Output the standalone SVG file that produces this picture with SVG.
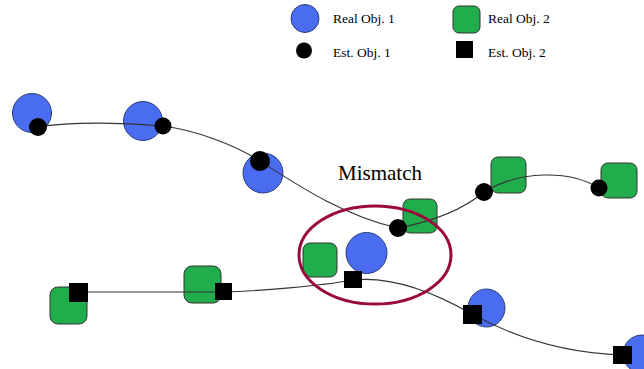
<svg xmlns="http://www.w3.org/2000/svg" width="644" height="369" viewBox="0 0 644 369">
<style>
.real1{fill:#4A6CF0;stroke:#2C3F7A;stroke-width:1}
.real2{fill:#22AD4C;stroke:#333;stroke-width:1}
.est{fill:#000}
.conn{fill:none;stroke:#333;stroke-width:1.1}
.lbl{font-family:"Liberation Serif","Times New Roman",serif;font-size:13.5px;fill:#000}
.title{font-family:"Liberation Serif","Times New Roman",serif;font-size:21px;fill:#000}
</style>
<rect width="644" height="369" fill="#fff"/>
<g id="legend">
<circle class="real1" cx="305" cy="18.5" r="14"/>
<text class="lbl" x="333" y="22.5">Real Obj. 1</text>
<rect class="real2" x="453" y="6" width="27" height="27" rx="6"/>
<text class="lbl" x="488" y="22.5">Real Obj. 2</text>
<circle class="est" cx="304" cy="50.5" r="8"/>
<text class="lbl" x="333" y="57">Est. Obj. 1</text>
<rect class="est" x="456" y="41" width="17" height="17"/>
<text class="lbl" x="488" y="57">Est. Obj. 2</text>
</g>
<g id="real-obj1-a"><circle class="real1" cx="32" cy="113" r="19.5"/></g>
<g id="real-obj1-b"><circle class="real1" cx="143" cy="121" r="19.5"/></g>
<g id="real-obj1-c"><circle class="real1" cx="263" cy="173" r="20"/></g>
<g id="real-obj2-a"><rect class="real2" x="403" y="199" width="34" height="34" rx="7"/></g>
<g id="real-obj2-b"><rect class="real2" x="491" y="157" width="35" height="36" rx="7"/></g>
<g id="real-obj2-c"><rect class="real2" x="601" y="163" width="36" height="35" rx="7"/></g>
<g id="real-obj2-d"><rect class="real2" x="50" y="287" width="37" height="37" rx="8"/></g>
<g id="real-obj2-e"><rect class="real2" x="184" y="266" width="37" height="37" rx="8"/></g>
<g id="real-obj2-f"><rect class="real2" x="303" y="243" width="34" height="34" rx="7"/></g>
<g id="real-obj1-d"><circle class="real1" cx="366.5" cy="253" r="20.5"/></g>
<g id="real-obj1-e"><ellipse class="real1" cx="486.5" cy="308" rx="18.5" ry="19"/></g>
<g id="real-obj1-f"><circle class="real1" cx="642" cy="354" r="19"/></g>
<g id="connectors">
<path class="conn" d="M37,127 C70,122 120,122 163,126 C195,130 235,145 260,161 C290,180 340,215 398,228 C430,222 460,212 484,192 C520,170 570,170 599,188"/>
<path class="conn" d="M78,292 L223,292 C260,291 320,286 353,280 C390,276 430,290 472,314 C510,335 560,353 622,355"/>
</g>
<g id="est-obj1-a"><circle class="est" cx="38" cy="127" r="9"/></g>
<g id="est-obj1-b"><circle class="est" cx="163" cy="126" r="8.5"/></g>
<g id="est-obj1-c"><circle class="est" cx="260" cy="161" r="10"/></g>
<g id="est-obj1-d"><circle class="est" cx="398" cy="228" r="9"/></g>
<g id="est-obj1-e"><circle class="est" cx="484" cy="192" r="9"/></g>
<g id="est-obj1-f"><circle class="est" cx="599" cy="188" r="8.5"/></g>
<g id="est-obj2-a"><rect class="est" x="69" y="283" width="19" height="19"/></g>
<g id="est-obj2-b"><rect class="est" x="215" y="283" width="17" height="17"/></g>
<g id="est-obj2-c"><rect class="est" x="344" y="271" width="18" height="17"/></g>
<g id="est-obj2-d"><rect class="est" x="463" y="305" width="19" height="19"/></g>
<g id="est-obj2-e"><rect class="est" x="613" y="346" width="19" height="18"/></g>
<g id="mismatch">
<ellipse cx="375" cy="255" rx="76" ry="49" fill="none" stroke="#9B0A3C" stroke-width="3"/>
<text class="title" x="338" y="180">Mismatch</text>
</g>
</svg>
